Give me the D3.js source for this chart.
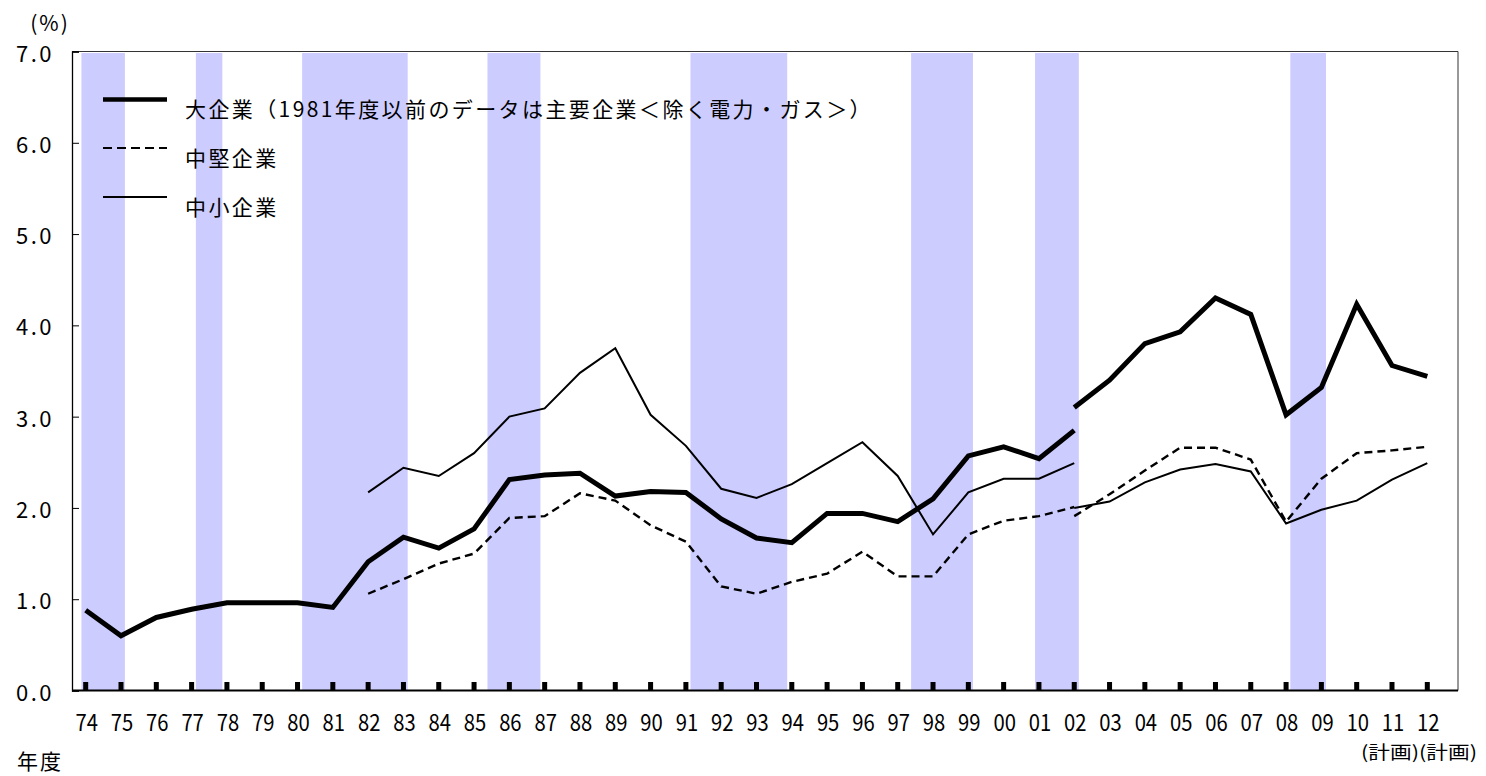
<!DOCTYPE html>
<html>
<head>
<meta charset="utf-8">
<script src="https://cdn.jsdelivr.net/npm/d3@7"></script>
<style>
html,body{margin:0;padding:0;background:#fff;}
svg{display:block;}
text{font-family:"Noto Sans CJK JP","Noto Sans",sans-serif;fill:#000;}
</style>
</head>
<body>
<svg id="chart" width="1486" height="776"></svg>
<script>
// ---------------- data ----------------
const years = ["74","75","76","77","78","79","80","81","82","83","84","85","86","87","88","89","90","91","92","93","94","95","96","97","98","99","00","01","02","03","04","05","06","07","08","09","10","11","12"];
const yTicks = [0,1,2,3,4,5,6,7];
const planLabels = ["(計画)","(計画)"];           // under FY11 and FY12
const seriesNames = ["大企業（1981年度以前のデータは主要企業＜除く電力・ガス＞）","中堅企業","中小企業"];

// 大企業 (old basis through FY02, new basis from FY02)
const largeOld = [0.88,0.60,0.80,0.89,0.96,0.96,0.96,0.91,1.41,1.68,1.56,1.77,2.31,2.36,2.38,2.13,2.18,2.17,1.88,1.67,1.62,1.94,1.94,1.85,2.10,2.57,2.67,2.54,2.85,null,null,null,null,null,null,null,null,null,null];
const largeNew = [null,null,null,null,null,null,null,null,null,null,null,null,null,null,null,null,null,null,null,null,null,null,null,null,null,null,null,null,3.10,3.40,3.80,3.93,4.30,4.12,3.02,3.32,4.23,3.56,3.44];
// 中堅企業
const midOld = [null,null,null,null,null,null,null,null,1.06,1.22,1.39,1.50,1.89,1.91,2.16,2.08,1.81,1.63,1.14,1.06,1.19,1.28,1.52,1.25,1.25,1.71,1.86,1.91,2.01,null,null,null,null,null,null,null,null,null,null];
const midNew = [null,null,null,null,null,null,null,null,null,null,null,null,null,null,null,null,null,null,null,null,null,null,null,null,null,null,null,null,1.91,2.15,2.41,2.66,2.66,2.53,1.85,2.32,2.60,2.63,2.67];
// 中小企業
const smallOld = [null,null,null,null,null,null,null,null,2.17,2.44,2.35,2.60,3.00,3.09,3.48,3.75,3.02,2.68,2.21,2.11,2.26,2.49,2.72,2.35,1.71,2.17,2.32,2.32,2.49,null,null,null,null,null,null,null,null,null,null];
const smallNew = [null,null,null,null,null,null,null,null,null,null,null,null,null,null,null,null,null,null,null,null,null,null,null,null,null,null,null,null,2.00,2.07,2.28,2.42,2.48,2.40,1.83,1.98,2.08,2.31,2.49];

// recession (shaded) periods, in fractional fiscal years
const recessions = [[1973.88,1975.11],[1977.12,1977.87],[1980.13,1983.12],[1985.38,1986.88],[1991.13,1993.87],[1997.38,1999.13],[2000.89,2002.13],[2008.12,2009.13]];

// ---------------- layout ----------------
const svg = d3.select("#chart");
const plot = {left:72, right:1458, top:51.5, bottom:690.5};
const xFirst = 85.7, xLast = 1427.3;

const x = d3.scalePoint().domain(years).range([xFirst, xLast]).padding(0);
const xYear = d3.scaleLinear().domain([1974, 2012]).range([xFirst, xLast]);
const y = d3.scaleLinear().domain([0, 7]).range([plot.bottom, plot.top]);

// shading
svg.append("g").selectAll("rect").data(recessions).join("rect")
  .attr("x", d => xYear(d[0]))
  .attr("width", d => xYear(d[1]) - xYear(d[0]))
  .attr("y", y(7) + 1.5)
  .attr("height", y(0) - y(7) - 1.5)
  .attr("fill", "#ccccff");

// frame (top & right)
svg.append("line").attr("x1", plot.left).attr("x2", plot.right).attr("y1", plot.top).attr("y2", plot.top)
  .attr("stroke", "#333").attr("stroke-width", 1);
svg.append("line").attr("x1", plot.right).attr("x2", plot.right).attr("y1", plot.top).attr("y2", plot.bottom)
  .attr("stroke", "#333").attr("stroke-width", 1);

// y axis
const yAxis = d3.axisRight(y).tickValues(yTicks).tickSize(7).tickFormat("");
const gy = svg.append("g").attr("transform", `translate(${plot.left},0)`).call(yAxis);
gy.select(".domain").attr("stroke", "#000").attr("stroke-width", 1.3);
gy.selectAll(".tick line").attr("stroke", "#000").attr("stroke-width", 1);

svg.append("g").selectAll("text").data(yTicks).join("text")
  .attr("x", 54).attr("y", d => y(d))
  .attr("text-anchor", "end").attr("dominant-baseline", "central")
  .attr("font-size", 22).attr("letter-spacing", 2.5)
  .text(d => d.toFixed(1));

// lines
const line = d3.line().defined(d => d.v != null).x(d => x(d.k)).y(d => y(d.v));
const toPts = arr => arr.map((v, i) => ({k: years[i], v}));
const styles = {
  large: {w: 5, dash: null},
  mid: {w: 2.4, dash: "8,5"},
  small: {w: 2, dash: null}
};
[[midOld,"mid"],[midNew,"mid"],[smallOld,"small"],[smallNew,"small"],[largeOld,"large"],[largeNew,"large"]].forEach(([arr, s]) => {
  svg.append("path").datum(toPts(arr)).attr("d", line)
    .attr("fill", "none").attr("stroke", "#000")
    .attr("stroke-width", styles[s].w)
    .attr("stroke-dasharray", styles[s].dash)
    .attr("stroke-linejoin", "miter");
});

// x axis
svg.append("line").attr("x1", plot.left).attr("x2", plot.right).attr("y1", plot.bottom).attr("y2", plot.bottom)
  .attr("stroke", "#000").attr("stroke-width", 2.2);
svg.append("g").selectAll("rect").data(years).join("rect")
  .attr("x", d => x(d) - 2.5).attr("width", 5)
  .attr("y", plot.bottom - 8.5).attr("height", 8.5)
  .attr("fill", "#000");

svg.append("g").selectAll("text").data(years).join("text")
  .attr("transform", d => `translate(${x(d) + 1},721) scale(0.88,1)`)
  .attr("text-anchor", "middle").attr("dominant-baseline", "central")
  .attr("font-size", 23)
  .text(d => d);

// (計画) labels
svg.append("text")
  .attr("x", 1361).attr("y", 751).attr("dominant-baseline", "central")
  .attr("font-size", 18)
  .attr("textLength", 116).attr("lengthAdjust", "spacingAndGlyphs")
  .text(planLabels.join(""));

// unit labels
svg.append("text").attr("x", 50).attr("y", 22).attr("text-anchor", "middle")
  .attr("dominant-baseline", "central").attr("font-size", 21).attr("letter-spacing", 2).text("(%)");
svg.append("text").attr("x", 17).attr("y", 760).attr("dominant-baseline", "central")
  .attr("font-size", 21).attr("letter-spacing", 2).text("年度");

// legend
const legend = svg.append("g");
const legendItems = [
  {name: seriesNames[0], s: "large", ly: 99.5, ty: 108},
  {name: seriesNames[1], s: "mid", ly: 148, ty: 157},
  {name: seriesNames[2], s: "small", ly: 197, ty: 206}
];
legendItems.forEach(it => {
  legend.append("line").attr("x1", 103).attr("x2", 167).attr("y1", it.ly).attr("y2", it.ly)
    .attr("stroke", "#000")
    .attr("stroke-width", it.s === "large" ? 4.5 : 2)
    .attr("stroke-dasharray", it.s === "mid" ? "9,5" : null);
  legend.append("text").attr("x", 185).attr("y", it.ty)
    .attr("dominant-baseline", "central").attr("font-size", 21).attr("letter-spacing", 2.4)
    .text(it.name);
});
</script>
</body>
</html>
